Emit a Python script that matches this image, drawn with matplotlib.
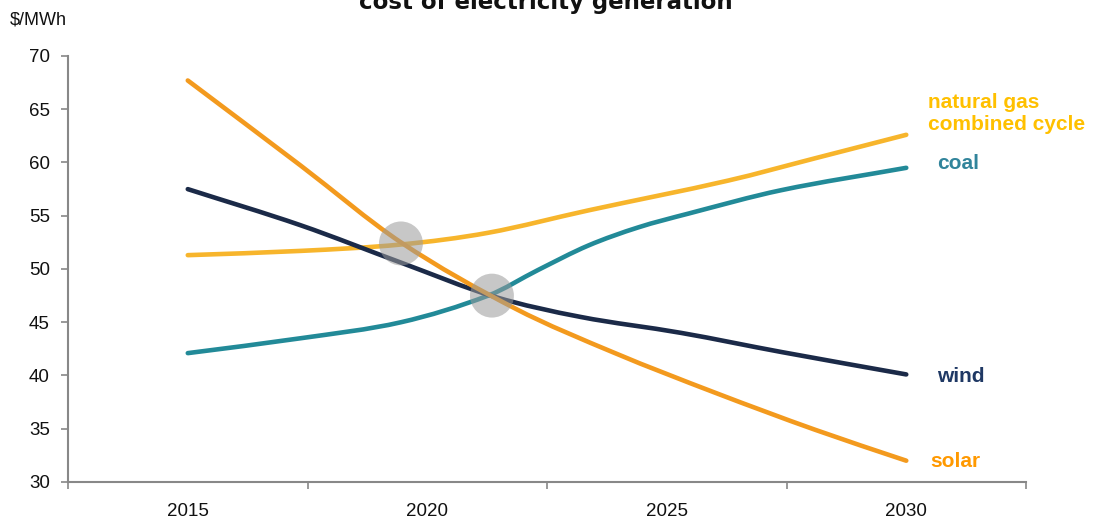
import matplotlib
matplotlib.use("Agg")
import matplotlib.pyplot as plt
from matplotlib.path import Path
from matplotlib.patches import PathPatch

# ---- data ----
categories = ["2015", "2020", "2025", "2030"]
cat_years = [2015, 2020, 2025, 2030]

solar_years = [2015, 2017.36, 2019.45, 2021.83, 2023.92, 2026.0, 2028.1, 2030]
solar_vals  = [67.7, 59.7, 52.5, 46.3, 42.1, 38.4, 34.9, 32.0]

wind_years = [2015, 2017.36, 2019.45, 2021.4, 2023.2, 2025.3, 2027.4, 2030]
wind_vals  = [57.5, 54.1, 50.6, 47.4, 45.5, 44.0, 42.2, 40.1]

gas_years = [2015, 2017.36, 2019.45, 2021.27, 2023.36, 2026.28, 2028.1, 2030]
gas_vals  = [51.3, 51.7, 52.3, 53.4, 55.5, 58.3, 60.4, 62.6]

coal_years = [2015, 2017.36, 2019.45, 2021.27, 2022.31, 2023.36, 2024.4,
              2025.45, 2027.39, 2030]
coal_vals  = [42.1, 43.5, 45.0, 47.5, 49.9, 52.2, 53.9, 55.2, 57.4, 59.5]

highlight_years = [2019.45, 2021.35]
highlight_vals  = [52.4, 47.5]

series_labels = ["natural gas\ncombined cycle", "coal", "wind", "solar"]

# ---- styling ----
C_SOLAR = "#F39A1E"
C_GAS = "#F7B52C"
C_COAL = "#228A98"
C_WIND = "#1B2A48"
T_GAS = "#FFC000"
T_COAL = "#31849B"
T_WIND = "#1F3864"
T_SOLAR = "#FF9900"


def smooth_path(xs, ys):
    """Smoothed line through the points (cubic Hermite Bezier segments)."""
    n = len(xs)
    m = []
    for i in range(n):
        if i == 0:
            m.append((ys[1] - ys[0]) / (xs[1] - xs[0]))
        elif i == n - 1:
            m.append((ys[-1] - ys[-2]) / (xs[-1] - xs[-2]))
        else:
            m.append((ys[i + 1] - ys[i - 1]) / (xs[i + 1] - xs[i - 1]))
    verts = [(xs[0], ys[0])]
    codes = [Path.MOVETO]
    for i in range(n - 1):
        dx = xs[i + 1] - xs[i]
        c1 = (xs[i] + dx / 3, ys[i] + m[i] * dx / 3)
        c2 = (xs[i + 1] - dx / 3, ys[i + 1] - m[i + 1] * dx / 3)
        verts += [c1, c2, (xs[i + 1], ys[i + 1])]
        codes += [Path.CURVE4] * 3
    return Path(verts, codes)


fig = plt.figure(figsize=(11.08, 5.18), dpi=100)
ax = fig.add_axes([0.0614, 0.0695, 0.8646, 0.8224])

lw = 3.3
for xs, ys, c in [(gas_years, gas_vals, C_GAS), (coal_years, coal_vals, C_COAL),
                  (wind_years, wind_vals, C_WIND), (solar_years, solar_vals, C_SOLAR)]:
    patch = PathPatch(smooth_path(xs, ys), facecolor="none", edgecolor=c, lw=lw,
                      capstyle="round", joinstyle="round", zorder=3)
    ax.add_patch(patch)

ax.scatter(highlight_years, highlight_vals, s=1000, color="#9A9A9A", alpha=0.55,
           edgecolors="none", zorder=4)

ax.set_xlim(2012.5, 2032.5)
ax.set_ylim(30, 70)
ax.set_yticks(range(30, 71, 5))
ax.set_xticks([2012.5, 2017.5, 2022.5, 2027.5, 2032.5])
ax.set_xticklabels([])
ax.set_xticks(cat_years, minor=True)
ax.set_xticklabels(categories, minor=True)
ax.tick_params(axis="x", which="minor", length=0, pad=15)
ax.tick_params(axis="x", which="major", length=5, color="#888888", width=1.2)
ax.tick_params(axis="y", length=5, color="#888888", width=1.2, pad=8)

for lab in ax.get_yticklabels() + ax.get_xticklabels(minor=True):
    lab.set_fontfamily(["Liberation Sans", "DejaVu Sans"])
    lab.set_fontsize(13.5)
    lab.set_color("#111111")

for s in ["top", "right"]:
    ax.spines[s].set_visible(False)
for s in ["left", "bottom"]:
    ax.spines[s].set_color("#888888")
    ax.spines[s].set_linewidth(1.5)

lab_font = dict(family=["Liberation Sans", "DejaVu Sans"], size=15, fontweight="bold")
ax.text(2030.45, 64.6, series_labels[0], color=T_GAS, va="center", ha="left",
        linespacing=1.15, **lab_font)
ax.text(2030.65, 59.95, series_labels[1], color=T_COAL, va="center", ha="left", **lab_font)
ax.text(2030.65, 39.86, series_labels[2], color=T_WIND, va="center", ha="left", **lab_font)
ax.text(2030.5, 31.97, series_labels[3], color=T_SOLAR, va="center", ha="left", **lab_font)

fig.text(0.009, 0.962, "$/MWh", fontsize=13, family=["Liberation Sans", "DejaVu Sans"],
         color="#111111", va="center", ha="left")
fig.text(0.493, 0.982, "cost of electricity generation", fontsize=16.5, fontweight="bold",
         family=["DejaVu Sans"], color="#111111", va="baseline", ha="center")

fig.savefig("out.png", dpi=100)
